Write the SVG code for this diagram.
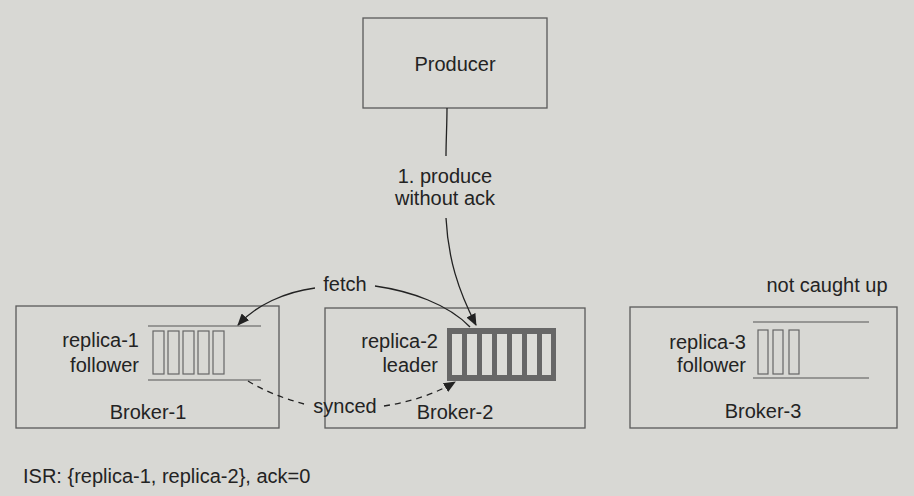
<svg xmlns="http://www.w3.org/2000/svg" width="914" height="496" viewBox="0 0 914 496">
  <defs>
    <style>
      .box { fill: none; stroke: #5a5a5a; stroke-width: 1.3; }
      .txt { font-family: "Liberation Sans", Arial, sans-serif; font-size: 20px; fill: #232323; }
      .mid { text-anchor: middle; }
      .end { text-anchor: end; }
      .rail { stroke: #555; stroke-width: 1.2; }
      .cell { fill: none; stroke: #666; stroke-width: 1.2; }
      .wire { fill: none; stroke: #222; stroke-width: 1.3; }
      .dash { stroke-dasharray: 6 5; }
    </style>
    <marker id="head" viewBox="0 0 12 10" refX="11" refY="5" markerWidth="12" markerHeight="10" markerUnits="userSpaceOnUse" orient="auto">
      <path d="M0,0 L12,5 L0,10 Z" fill="#222"/>
    </marker>
  </defs>

  <rect width="914" height="496" fill="#d8d8d4"/>

  <!-- Producer -->
  <g id="producer">
    <rect class="box" x="363" y="18" width="184" height="90"/>
    <text class="txt mid" x="455" y="71">Producer</text>
  </g>

  <!-- Broker-1 with follower replica-1 -->
  <g id="broker-1">
    <rect class="box" x="16" y="306" width="263" height="122"/>
    <text class="txt end" x="139" y="347">replica-1</text>
    <text class="txt end" x="139" y="372">follower</text>
    <line class="rail" x1="148" y1="326" x2="261" y2="326"/>
    <line class="rail" x1="148" y1="380" x2="261" y2="380"/>
    <rect class="cell" x="153" y="331" width="11" height="43"/>
    <rect class="cell" x="168" y="331" width="11" height="43"/>
    <rect class="cell" x="183" y="331" width="11" height="43"/>
    <rect class="cell" x="198" y="331" width="11" height="43"/>
    <rect class="cell" x="213" y="331" width="11" height="43"/>
    <text class="txt mid" x="148" y="419">Broker-1</text>
  </g>

  <!-- Broker-2 with leader replica-2 -->
  <g id="broker-2">
    <rect class="box" x="325" y="308" width="260" height="120"/>
    <text class="txt end" x="438" y="348">replica-2</text>
    <text class="txt end" x="438" y="372">leader</text>
    <rect x="447" y="328" width="109" height="53" fill="#676767"/>
    <g fill="#dcdcd8">
      <rect x="452" y="334" width="10" height="41"/>
      <rect x="467" y="334" width="10" height="41"/>
      <rect x="482" y="334" width="10" height="41"/>
      <rect x="497" y="334" width="10" height="41"/>
      <rect x="512" y="334" width="10" height="41"/>
      <rect x="527" y="334" width="10" height="41"/>
      <rect x="542" y="334" width="9" height="41"/>
    </g>
    <text class="txt mid" x="455" y="419">Broker-2</text>
  </g>

  <!-- Broker-3 with lagging follower replica-3 -->
  <g id="broker-3">
    <rect class="box" x="630" y="307" width="267" height="121"/>
    <text class="txt end" x="746" y="349">replica-3</text>
    <text class="txt end" x="746" y="372">follower</text>
    <line class="rail" x1="753" y1="322" x2="869" y2="322"/>
    <line class="rail" x1="753" y1="378" x2="869" y2="378"/>
    <rect class="cell" x="758" y="330" width="10" height="44"/>
    <rect class="cell" x="773" y="330" width="10" height="44"/>
    <rect class="cell" x="789" y="330" width="10" height="44"/>
    <text class="txt mid" x="763" y="418">Broker-3</text>
    <text class="txt mid" x="827" y="292">not caught up</text>
  </g>

  <!-- Connectors -->
  <g id="connectors">
    <path class="wire" d="M447,108 C447,125 446,140 446,156"/>
    <path class="wire" d="M446,218 C448,258 458,290 476,325" marker-end="url(#head)"/>
    <path class="wire" d="M315,288 C285,292 256,305 238,325" marker-end="url(#head)"/>
    <path class="wire" d="M375,286 C410,291 448,304 470,327"/>
    <path class="wire dash" d="M248,381 C262,390 282,398 304,404"/>
    <path class="wire dash" d="M384,406 C410,402 435,394 455,382" marker-end="url(#head)"/>
  </g>

  <!-- Connector labels -->
  <g id="labels">
    <text class="txt mid" x="445" y="183">1. produce</text>
    <text class="txt mid" x="445" y="205">without ack</text>
    <text class="txt mid" x="345" y="291">fetch</text>
    <text class="txt mid" x="345" y="413">synced</text>
  </g>

  <text class="txt" x="23" y="483">ISR: {replica-1, replica-2}, ack=0</text>
</svg>
